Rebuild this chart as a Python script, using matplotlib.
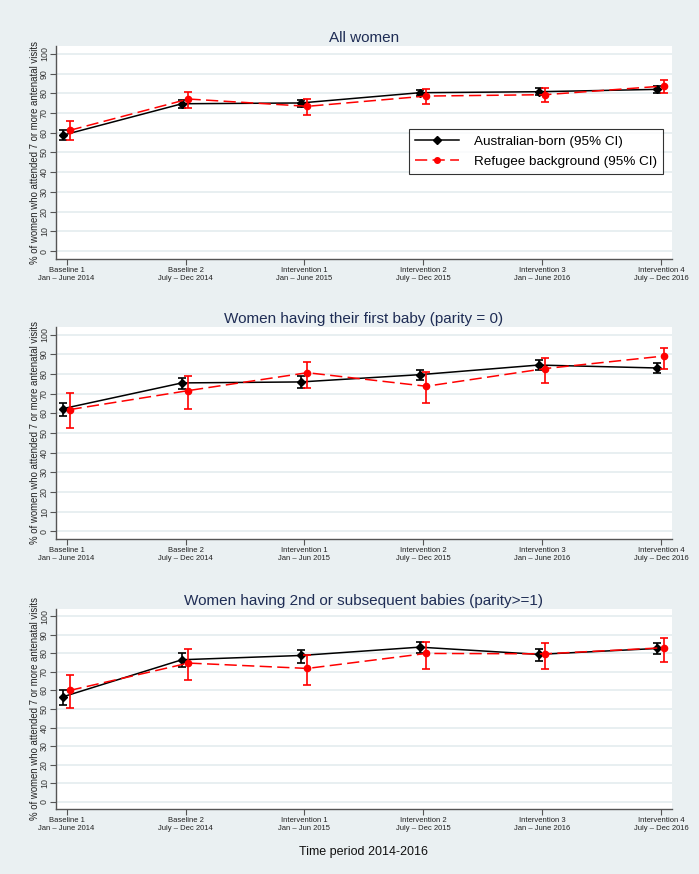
"""
Antenatal visits (7 or more) by period, Australian-born vs refugee background women.
"""
import numpy as np
from matplotlib import pyplot as plt
from matplotlib.lines import Line2D

plt.rcParams['font.family'] = ['Liberation Sans', 'DejaVu Sans']

periods = ["Baseline 1", "Baseline 2", "Intervention 1",
           "Intervention 2", "Intervention 3", "Intervention 4"]
dates_a = ["Jan \u2013 June 2014", "July \u2013 Dec 2014", "Jan \u2013 June 2015",
           "July \u2013 Dec 2015", "Jan \u2013 June 2016", "July \u2013 Dec 2016"]
dates_b = ["Jan \u2013 June 2014", "July \u2013 Dec 2014", "Jan \u2013 Jun 2015",
           "July \u2013 Dec 2015", "Jan \u2013 June 2016", "July \u2013 Dec 2016"]

titles = ["All women",
          "Women having their first baby (parity = 0)",
          "Women having 2nd or subsequent babies (parity>=1)"]

# Australian-born: estimate, lower CI, upper CI
aus_all = [58.8, 74.7, 75.1, 80.3, 80.8, 82.0]
aus_all_lo = [56.4, 72.7, 73.0, 78.5, 79.0, 80.2]
aus_all_hi = [61.2, 76.4, 76.8, 81.9, 82.5, 83.6]
ref_all = [61.2, 77.1, 73.4, 78.6, 79.3, 83.7]
ref_all_lo = [56.3, 72.5, 69.2, 74.7, 75.6, 80.2]
ref_all_hi = [65.9, 80.8, 77.3, 82.0, 82.5, 86.8]

aus_p0 = [62.4, 75.5, 76.0, 79.7, 84.6, 83.1]
aus_p0_lo = [58.5, 72.2, 72.8, 76.8, 82.1, 80.5]
aus_p0_hi = [65.5, 78.2, 79.0, 82.2, 87.1, 85.6]
ref_p0 = [61.9, 71.6, 80.7, 73.8, 82.8, 89.2]
ref_p0_lo = [52.5, 62.4, 72.9, 65.1, 75.6, 82.6]
ref_p0_hi = [70.6, 79.2, 86.3, 81.0, 88.1, 93.4]

aus_p1 = [56.6, 76.6, 78.9, 83.4, 79.5, 82.7]
aus_p1_lo = [52.4, 72.8, 75.1, 80.4, 75.9, 79.6]
aus_p1_hi = [60.5, 80.0, 82.0, 86.0, 82.5, 85.4]
ref_p1 = [60.0, 74.8, 71.9, 80.0, 79.8, 83.1]
ref_p1_lo = [50.6, 65.4, 62.9, 71.5, 71.7, 75.5]
ref_p1_hi = [68.6, 82.2, 79.3, 86.0, 85.9, 88.6]

panels = [
    (aus_all, aus_all_lo, aus_all_hi, ref_all, ref_all_lo, ref_all_hi, dates_a),
    (aus_p0, aus_p0_lo, aus_p0_hi, ref_p0, ref_p0_lo, ref_p0_hi, dates_b),
    (aus_p1, aus_p1_lo, aus_p1_hi, ref_p1, ref_p1_lo, ref_p1_hi, dates_b),
]

BG = "#eaf0f2"
GRID = "#e4ecef"
NAVY = "#1f2d55"
DASH = (8, 3.5)

fig = plt.figure(figsize=(6.99, 8.74), dpi=100, facecolor=BG)
boxes = [[0.080, 0.7037, 0.881, 0.2437],
         [0.080, 0.3833, 0.881, 0.2426],
         [0.080, 0.0744, 0.881, 0.2288]]

x = np.arange(1, 7)
for i, (box, title, (a, alo, ahi, r, rlo, rhi, dates)) in enumerate(zip(boxes, titles, panels)):
    ax = fig.add_axes(box)
    ax.set_facecolor("white")
    a = np.array(a); r = np.array(r)
    aerr = [a - np.array(alo), np.array(ahi) - a]
    rerr = [r - np.array(rlo), np.array(rhi) - r]
    ax.errorbar(x - 0.03, a, yerr=aerr, color="black", lw=1.1, marker="D", ms=4.5,
                capsize=3, elinewidth=1.2, capthick=1.2, zorder=3)
    ax.errorbar(x + 0.025, r, yerr=rerr, color="red", lw=1.1, marker="o", ms=4.5,
                capsize=3, elinewidth=1.2, capthick=1.2, zorder=4, dashes=DASH)
    ax.set_xlim(0.91, 6.09)
    ax.set_ylim(-4, 104)
    ax.set_yticks(range(0, 101, 10))
    ax.set_yticklabels([str(v) for v in range(0, 101, 10)], rotation=90,
                       va="center", fontsize=6.4, color="#333333")
    ax.set_xticks(x)
    ax.set_xticklabels([f"{p}\n{d}" for p, d in zip(periods, dates)],
                       fontsize=5.5, color="#222222", linespacing=1.05)
    ax.grid(axis="y", color=GRID, lw=1.2)
    ax.set_axisbelow(True)
    for s in ["top", "right"]:
        ax.spines[s].set_visible(False)
    for s in ["left", "bottom"]:
        ax.spines[s].set_color("#555555")
        ax.spines[s].set_linewidth(1.0)
    ax.tick_params(axis="x", length=4, width=0.8, color="#555555", pad=2)
    ax.tick_params(axis="y", length=4, width=0.8, color="#555555", pad=1)
    ax.set_ylabel("% of women who attended 7 or more antenatal visits",
                  fontsize=6.9, color="#222222", labelpad=0)
    ax.set_title(title, fontsize=11, color=NAVY, pad=3)
    if i == 0:
        handles = [Line2D([], [], color="black", lw=1.1, marker="D", ms=4),
                   Line2D([], [], color="red", lw=1.1, marker="o", ms=4, dashes=DASH)]
        leg = ax.legend(handles, ["Australian-born (95% CI)", "Refugee background (95% CI)"],
                        loc="upper left", bbox_to_anchor=(0.573, 0.61),
                        fontsize=9.7, frameon=True, fancybox=False,
                        edgecolor="black", handlelength=3.3, borderpad=0.45,
                        labelspacing=0.6, handletextpad=1.1, borderaxespad=0)
        leg.get_frame().set_linewidth(0.8)

fig.text(0.52, 0.025, "Time period 2014-2016", ha="center", va="center",
         fontsize=9, color="#111111")

fig.savefig("out.png", dpi=100, facecolor=BG)
